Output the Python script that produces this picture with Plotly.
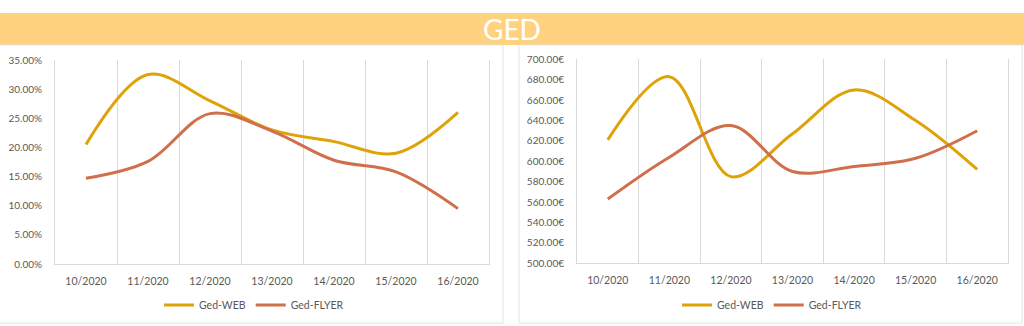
import plotly.graph_objects as go

weeks = ["10/2020", "11/2020", "12/2020", "13/2020", "14/2020", "15/2020", "16/2020"]
web_pct = [20.5, 32.5, 28.0, 23.0, 21.0, 19.0, 26.0]
flyer_pct = [14.7, 17.6, 25.8, 22.8, 17.8, 15.8, 9.5]
web_eur = [621, 683, 585, 627, 670, 640, 592]
flyer_eur = [563, 604, 635, 590, 595, 603, 630]

WEB_C = "#DFA30A"
FLY_C = "#D06F4C"
TXT = "#595959"
GRID = "#D9D9D9"
FONT = "Lato"

fig = go.Figure()
fig.add_trace(go.Scatter(x=weeks, y=web_pct, name="Ged-WEB", mode="lines",
                         line=dict(color=WEB_C, width=3, shape="spline", smoothing=1),
                         xaxis="x", yaxis="y", legend="legend"))
fig.add_trace(go.Scatter(x=weeks, y=flyer_pct, name="Ged-FLYER", mode="lines",
                         line=dict(color=FLY_C, width=3, shape="spline", smoothing=1),
                         xaxis="x", yaxis="y", legend="legend"))
fig.add_trace(go.Scatter(x=weeks, y=web_eur, name="Ged-WEB", mode="lines",
                         line=dict(color=WEB_C, width=3, shape="spline", smoothing=1),
                         xaxis="x2", yaxis="y2", legend="legend2"))
fig.add_trace(go.Scatter(x=weeks, y=flyer_eur, name="Ged-FLYER", mode="lines",
                         line=dict(color=FLY_C, width=3, shape="spline", smoothing=1),
                         xaxis="x2", yaxis="y2", legend="legend2"))

W, H = 1024, 326

def px_x(v):
    return v / W

def px_y(v):
    return (H - v) / H

xcommon = dict(type="category", tickson="boundaries", showgrid=True, gridcolor=GRID, gridwidth=1,
               showline=True, linecolor=GRID, linewidth=1, ticks="", ticklabelstandoff=7,
               zeroline=False, range=[-0.5, len(weeks) - 0.5], automargin=False,
               tickfont=dict(family=FONT, size=10.5, color=TXT), fixedrange=True)
ycommon = dict(showgrid=False, zeroline=False, showline=True, linecolor=GRID, linewidth=1, mirror=True,
               ticks="", ticklabelstandoff=10, automargin=False,
               tickfont=dict(family=FONT, size=10, color=TXT))

fig.update_layout(
    width=W, height=H, margin=dict(l=0, r=0, t=0, b=0, autoexpand=False),
    paper_bgcolor="white", plot_bgcolor="white",
    xaxis=dict(domain=[px_x(55), px_x(489)], anchor="y", **xcommon),
    yaxis=dict(domain=[px_y(264), px_y(60)], range=[0, 35], dtick=5, tickformat=".2f",
               ticksuffix="%", anchor="x", **ycommon),
    xaxis2=dict(domain=[px_x(577), px_x(1008)], anchor="y2", **xcommon),
    yaxis2=dict(domain=[px_y(263.3), px_y(59.3)], range=[500, 700], dtick=20, tickformat=".2f",
                ticksuffix="€", anchor="x2", **ycommon),
    legend=dict(orientation="h", x=px_x(254), xanchor="center", y=px_y(305), yanchor="middle",
                font=dict(family=FONT, size=10.5, color=TXT), bgcolor="rgba(0,0,0,0)"),
    legend2=dict(orientation="h", x=px_x(772), xanchor="center", y=px_y(305), yanchor="middle",
                 font=dict(family=FONT, size=10.5, color=TXT), bgcolor="rgba(0,0,0,0)"),
    shapes=[
        dict(type="rect", xref="paper", yref="paper", x0=0, x1=1, y0=px_y(45), y1=px_y(13),
             fillcolor="#FFD280", line=dict(width=0), layer="below"),
        dict(type="rect", xref="paper", yref="paper", x0=px_x(-1), x1=px_x(503), y0=px_y(323), y1=px_y(45),
             fillcolor="rgba(0,0,0,0)", line=dict(color="#E3E3E3", width=1), layer="below"),
        dict(type="rect", xref="paper", yref="paper", x0=px_x(519), x1=px_x(1022), y0=px_y(323), y1=px_y(45),
             fillcolor="rgba(0,0,0,0)", line=dict(color="#E3E3E3", width=1), layer="below"),
    ],
    annotations=[
        dict(text="GED", xref="paper", yref="paper", x=px_x(512), y=px_y(29), xanchor="center",
             yanchor="middle", showarrow=False, font=dict(family=FONT, size=28, color="white")),
    ],
)

fig.write_html("out.html")
